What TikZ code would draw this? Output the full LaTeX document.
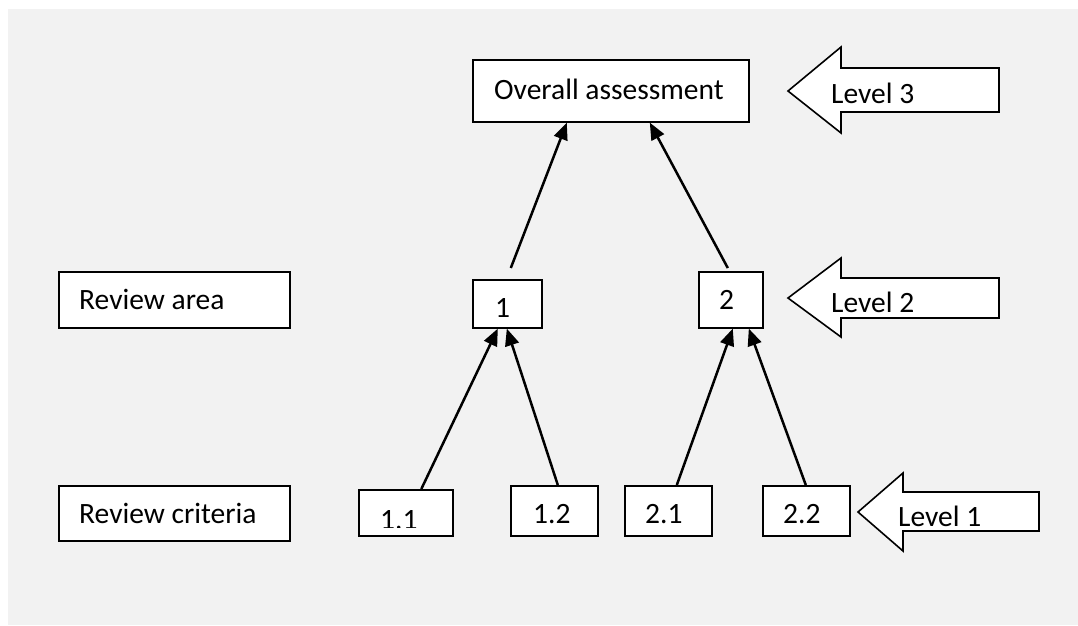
\documentclass[tikz,border=0pt]{standalone}
\usepackage{fontspec}
\setmainfont{Carlito}
\usetikzlibrary{arrows.meta}
\definecolor{bgray}{HTML}{F2F2F2}
\begin{document}
\begin{tikzpicture}[x=1pt,y=-1pt,
  box/.style={draw=black, line width=1.6pt, fill=white, inner sep=0pt, anchor=north west},
  txt/.style={font=\fontsize{29.5}{35}\selectfont, inner sep=0pt, anchor=base west},
  conn/.style={line width=2.5pt, -{Triangle[length=17pt,width=14pt]}},
  blockarrow/.style={draw=black, fill=white, line width=1.6pt, line join=miter}]
\useasboundingbox (0,0) rectangle (1078,625);
\fill[white] (0,0) rectangle (1078,625);
\fill[bgray] (8,9) rectangle (1078,625);

% boxes
\node[box, minimum width=276pt, minimum height=62pt] (oa) at (472,59) {};
\node[box, minimum width=231pt, minimum height=56pt] (ra) at (58,271) {};
\node[box, minimum width=69pt, minimum height=48pt] (b1) at (472,279) {};
\node[box, minimum width=64pt, minimum height=56pt] (b2) at (698,271) {};
\node[box, minimum width=231pt, minimum height=55pt] (rc) at (58,485) {};
\node[box, minimum width=94pt, minimum height=46pt] (b11) at (358,489) {};
\node[box, minimum width=87pt, minimum height=50pt] (b12) at (510,485) {};
\node[box, minimum width=87pt, minimum height=50pt] (b21) at (624,485) {};
\node[box, minimum width=87pt, minimum height=50pt] (b22) at (762,485) {};

% texts
\node[txt] (toa) at (494,99) {Overall assessment};
\node[txt] (tra) at (79,309) {Review area};
\node[txt] (trc) at (79,523) {Review criteria};
\node[txt] (t1) at (495,317) {1};
\node[txt] (t2) at (719,309) {2};
\begin{scope}
\clip (360,491) rectangle (450,527);
\node[txt] (t11) at (380,529) {1.1};
\end{scope}
\node[txt] (t12) at (533,523) {1.2};
\node[txt] (t21) at (645,523) {2.1};
\node[txt] (t22) at (783,523) {2.2};

% block arrows
\draw[blockarrow] (788,91) -- (841,47) -- (841,68) -- (999,68) -- (999,112) -- (841,112) -- (841,133) -- cycle;
\draw[blockarrow] (788,298) -- (841,258) -- (841,278) -- (999,278) -- (999,318) -- (841,318) -- (841,337) -- cycle;
\draw[blockarrow] (858,512) -- (903,473) -- (903,492) -- (1039,492) -- (1039,531) -- (903,531) -- (903,551) -- cycle;
\node[txt] (l3) at (831,103) {Level 3};
\node[txt] (l2) at (831,312) {Level 2};
\node[txt] (l1) at (898,526) {Level 1};

% connectors
\draw[conn] ([xshift=15.5pt]b11.north) -- ([xshift=-9.5pt]b1.south);
\draw[conn] ([xshift=3.5pt]b12.north) -- ([xshift=-0.5pt]b1.south);
\draw[conn] ([xshift=8.5pt]b21.north) -- ([xshift=2pt]b2.south);
\draw[conn] ([xshift=-0.5pt]b22.north) -- ([xshift=18pt]b2.south);
\draw[conn] ([xshift=3.5pt,yshift=11pt]b1.north) -- ([xshift=-44pt]oa.south);
\draw[conn] ([xshift=-3pt,yshift=3pt]b2.north) -- ([xshift=39pt]oa.south);
\end{tikzpicture}
\end{document}
